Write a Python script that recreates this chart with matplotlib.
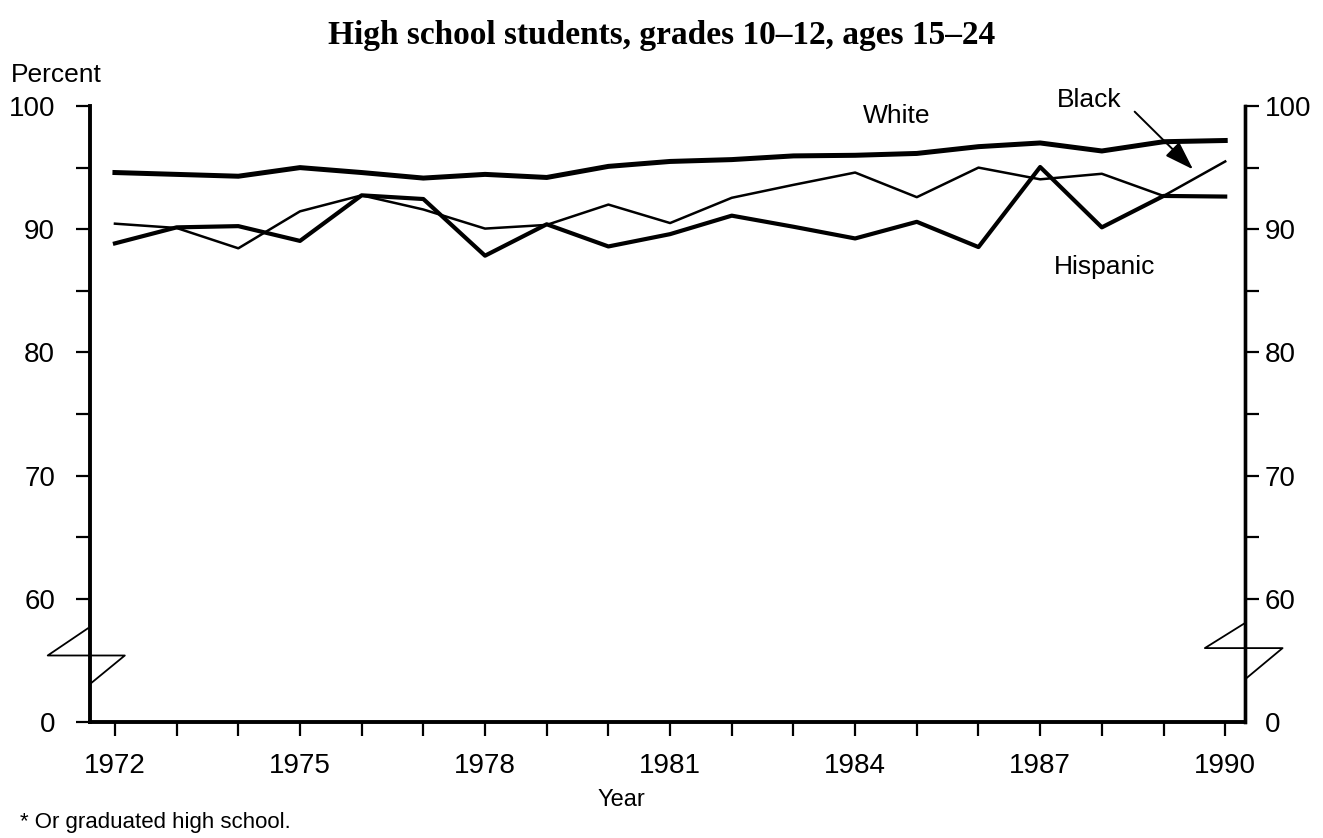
'''
Line chart of high school students (grades 10-12, ages 15-24), percent by year,
for White, Black and Hispanic students, with a broken y axis (0, then 60-100).
'''

import matplotlib
matplotlib.use("Agg")
import matplotlib.pyplot as plt

# data
years = list(range(1972, 1991))
white = [94.6, 94.45, 94.3, 95.0, 94.6, 94.15, 94.45, 94.2, 95.1, 95.5, 95.65,
         95.95, 96.0, 96.15, 96.7, 97.0, 96.35, 97.1, 97.2]
black = [90.45, 90.1, 88.45, 91.45, 92.75, 91.6, 90.05, 90.35, 92.0, 90.5, 92.55,
         93.6, 94.6, 92.6, 95.0, 94.05, 94.5, 92.7, 95.5]
hispanic = [88.85, 90.15, 90.25, 89.05, 92.75, 92.45, 87.85, 90.4, 88.6, 89.6, 91.1,
            90.2, 89.25, 90.6, 88.55, 95.05, 90.15, 92.7, 92.65]

y_ticks = [50, 60, 70, 80, 90, 100]
y_tick_labels = ["0", "60", "70", "80", "90", "100"]
x_label_years = [1972, 1975, 1978, 1981, 1984, 1987, 1990]

sans = ["Liberation Sans", "DejaVu Sans"]
plt.rcParams["font.family"] = sans

fig = plt.figure(figsize=(13.23, 8.38), dpi=100)
ax = fig.add_axes([0.068, 0.1384, 0.873, 0.7351])

# the value 0 sits where 50 would be (axis is broken below 60)
ax.plot(years, white, color="black", lw=3.6)
ax.plot(years, black, color="black", lw=1.8)
ax.plot(years, hispanic, color="black", lw=3.0)

ax.set_xlim(1971.595, 1990.32)
ax.set_ylim(50, 100)

ax.spines["top"].set_visible(False)
ax.spines["left"].set_linewidth(2.8)
ax.spines["bottom"].set_linewidth(2.8)
ax.spines["right"].set_linewidth(2.4)

# x ticks: every year, labels every 3 years
ax.set_xticks(x_label_years)
ax.set_xticklabels([str(y) for y in x_label_years], fontsize=20)
ax.set_xticks(years, minor=True)
ax.tick_params(axis="x", which="both", direction="out", length=10, width=1.6, pad=12)

# left y ticks
ax.set_yticks(y_ticks)
ax.set_yticklabels(y_tick_labels, fontsize=20)
ax.set_yticks([65, 75, 85, 95], minor=True)
ax.tick_params(axis="y", which="both", direction="out", length=10, width=1.6, pad=15)
ax.yaxis.get_major_ticks()[0].tick1line.set_visible(False)

# right y axis with the same scale
ax2 = ax.twinx()
ax2.set_ylim(50, 100)
ax2.set_yticks(y_ticks)
ax2.set_yticklabels(y_tick_labels, fontsize=20)
ax2.set_yticks([65, 75, 85, 95], minor=True)
ax2.tick_params(axis="y", which="both", direction="out", length=10, width=1.6, pad=4)
ax2.yaxis.get_major_ticks()[0].tick2line.set_visible(False)
for side in ["top", "left", "bottom"]:
    ax2.spines[side].set_visible(False)
ax2.spines["right"].set_linewidth(2.4)

# axis break marks (Z shapes) on both sides
ax.plot([1971.56, 1970.91, 1972.16, 1971.6], [57.6, 55.4, 55.4, 53.1],
        color="black", lw=1.3, clip_on=False)
ax.plot([1990.31, 1989.67, 1990.93, 1990.33], [58.0, 56.0, 56.0, 53.5],
        color="black", lw=1.3, clip_on=False)

# series labels
ax.text(1984.68, 99.16, "White", fontsize=19, ha="center", va="center")
ax.text(1988.05, 86.9, "Hispanic", fontsize=19, ha="center", va="center")
ax.text(1987.8, 100.45, "Black", fontsize=19, ha="center", va="center")
ax.annotate("", xy=(1989.51, 94.7), xytext=(1988.5, 99.7),
            arrowprops=dict(arrowstyle="-|>,head_length=0.6,head_width=0.2",
                            color="black", lw=1.4, mutation_scale=30),
            annotation_clip=False)

fig.text(0.5, 0.958, "High school students, grades 10\u201312, ages 15\u201324",
         fontsize=24, fontweight="bold", ha="center", va="center",
         family=["Liberation Serif", "DejaVu Serif"])
fig.text(0.008, 0.911, "Percent", fontsize=19, ha="left", va="center")
fig.text(0.47, 0.045, "Year", fontsize=17, ha="center", va="center")
fig.text(0.015, 0.019, "* Or graduated high school.", fontsize=16, ha="left", va="center")

fig.savefig("out.png", dpi=100)
